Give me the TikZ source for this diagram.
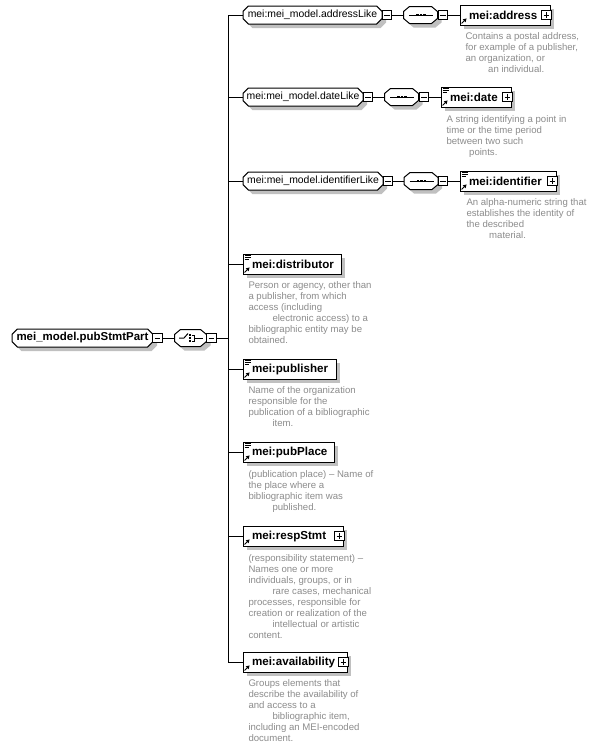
\documentclass[tikz,border=0pt]{standalone}
\usepackage{fontspec}
\setmainfont{Liberation Sans}
\usetikzlibrary{shapes.misc,shadows,arrows.meta}
\definecolor{shadowgray}{RGB}{192,192,192}
\definecolor{descgray}{RGB}{140,140,140}
\newcommand\xarrowicon{%
  \draw[line width=0.75pt,-{Triangle[length=2.6pt,width=2.8pt]}] ([shift={(1.2pt,1.2pt)}]path picture bounding box.south west) -- ++(5,-5);}
\newcommand\xlinesicon{%
  \draw[line width=0.6pt] ([shift={(1.2pt,-1.3pt)}]path picture bounding box.north west) -- ++(6,0) ++(-6,2) -- ++(6,0) ++(-6,2) -- ++(4,0);}
% compositor outline: #1 node name, #2 length of the flat top edge (px)
\newcommand\xcompshape[2]{%
  \fill[shadowgray] ([shift={(3pt,-3pt)}]#1.west) ++(0,-3.5) -- ++(6,-5) -- ++(#2,0) -- ++(6,5) -- ++(0,7) -- ++(-6,5) -- ++(-#2,0) -- ++(-6,-5) -- cycle;
  \draw[fill=white] (#1.west) ++(0,-3.5) -- ++(6,-5) -- ++(#2,0) -- ++(6,5) -- ++(0,7) -- ++(-6,5) -- ++(-#2,0) -- ++(-6,-5) -- cycle;}
\newcommand\xseqicon[1]{%
  \draw (#1.center) ++(-12,0) -- ++(24,0);
  \foreach \d in {-3.5,0,3.5} \fill (#1.center) ++(\d,0) ++(-1.3,-1.3) rectangle ++(2.6,2.6);}
\newcommand\xchoiceicon[1]{%
  \draw (#1.center) ++(-12,0) -- ++(5,0) -- ++(4,-4.5);
  \foreach \dy in {-3,0,3} \fill (#1.center) ++(-1,\dy) ++(-1.1,-1.1) rectangle ++(2.2,2.2);
  \draw (#1.center) ++(0.5,-3) -- ++(2.5,0) -- ++(0,6) -- ++(-2.5,0);
  \draw (#1.center) ++(3,0) -- ++(9,0);}
\begin{document}
\begin{tikzpicture}[x=0.75pt,y=-0.75pt,line width=0.75pt,
  shad/.style={drop shadow={shadow xshift=3pt,shadow yshift=-3pt,fill=shadowgray,opacity=1}},
  groupbox/.style={chamfered rectangle,chamfered rectangle xsep=2pt,chamfered rectangle ysep=2pt,
    draw,fill=white,shad,minimum height=13.5pt,inner sep=0pt,font=\fontsize{7.8}{9}\selectfont},
  rootbox/.style={groupbox,font=\bfseries\fontsize{8.6}{10}\selectfont},
  compbox/.style={rectangle,draw=none,minimum height=12.75pt,inner sep=0pt},
  seqbox/.style={compbox,minimum width=25.5pt},
  choicebox/.style={compbox,minimum width=24pt},
  elembase/.style={rectangle,draw,fill=white,shad,minimum height=15pt,inner sep=0pt,align=left,
    font=\bfseries\fontsize{8.7}{10}\selectfont},
  elem/.style={elembase,path picture={\xarrowicon}},
  elemc/.style={elembase,path picture={\xarrowicon\xlinesicon}},
  pm/.style={rectangle,draw,fill=white,minimum size=7pt,inner sep=0pt},
  minusbox/.style={pm,path picture={\draw ([xshift=1.3pt]path picture bounding box.west) -- ([xshift=-1.3pt]path picture bounding box.east);}},
  plusbox/.style={pm,path picture={\draw ([xshift=1.3pt]path picture bounding box.west) -- ([xshift=-1.3pt]path picture bounding box.east);
     \draw ([yshift=-1.3pt]path picture bounding box.north) -- ([yshift=1.3pt]path picture bounding box.south);}},
  desc/.style={anchor=north west,inner sep=0pt,align=left,text=descgray,font=\fontsize{7.2}{8.25}\selectfont},
  conn/.style={draw,line width=0.75pt}
]
\path[use as bounding box,fill=white] (0,0) rectangle (594,750);

% root and choice
\node[rootbox,minimum width=105.75pt] (root) at (82.5,338) {mei\_model.pubStmtPart};
\node[minusbox] (rootm) at (157.5,338) {};
\node[choicebox] (choice) at (191,338) {};
\xcompshape{choice}{20}
\xchoiceicon{choice}
\node[minusbox] (choicem) at (211.5,338) {};
\coordinate (spmid) at (228,338);

% spine coordinates
\coordinate (s1) at (228,15);
\coordinate (s2) at (228,97);
\coordinate (s3) at (228,181);
\coordinate (s4) at (228,264);
\coordinate (s5) at (228,369);
\coordinate (s6) at (228,452);
\coordinate (s7) at (228,536);
\coordinate (s8) at (228,662);

% row 1
\node[groupbox,minimum width=104.25pt] (g1) at (312.5,15) {mei:mei\_model.addressLike};
\node[minusbox] (g1m) at (387,15) {};
\node[seqbox] (q1) at (421,15) {};
\xcompshape{q1}{22}
\xseqicon{q1}
\node[minusbox] (q1m) at (443,15) {};
\node[elem,text width=67.5pt] (e1) at (505,15) {\hspace*{6.75pt}mei:address};
\node[plusbox] (e1p) at (546.5,15) {};
% row 2
\node[groupbox,minimum width=90pt] (g2) at (303,97) {mei:mei\_model.dateLike};
\node[minusbox] (g2m) at (368,97) {};
\node[seqbox] (q2) at (402,97) {};
\xcompshape{q2}{22}
\xseqicon{q2}
\node[minusbox] (q2m) at (424,97) {};
\node[elemc,text width=52.5pt] (e2) at (476,97) {\hspace*{6.75pt}mei:date};
\node[plusbox] (e2p) at (507.5,97) {};
% row 3
\node[groupbox,minimum width=105pt] (g3) at (313,181) {mei:mei\_model.identifierLike};
\node[minusbox] (g3m) at (388,181) {};
\node[seqbox] (q3) at (421.5,181) {};
\xcompshape{q3}{22}
\xseqicon{q3}
\node[minusbox] (q3m) at (443,181) {};
\node[elemc,text width=72pt] (e3) at (508,181) {\hspace*{6.75pt}mei:identifier};
\node[plusbox] (e3p) at (552.5,181) {};
% rows 4-8
\node[elemc,text width=73.5pt] (e4) at (292,264) {\hspace*{6.75pt}mei:distributor};
\node[elemc,text width=69.75pt] (e5) at (289.5,369) {\hspace*{6.75pt}mei:publisher};
\node[elemc,text width=68.25pt] (e6) at (288.5,452) {\hspace*{6.75pt}mei:pubPlace};
\node[elem,text width=75pt] (e7) at (293,536) {\hspace*{6.75pt}mei:respStmt};
\node[plusbox] (e7p) at (339.5,536) {};
\node[elem,text width=78pt] (e8) at (295,662) {\hspace*{6.75pt}mei:availability};
\node[plusbox] (e8p) at (343.5,662) {};

% connectors
\draw[conn] (rootm.east) -- (choice.west);
\draw[conn] (choicem.east) -- (spmid);
\draw[conn] (s1) -- (s8);
\draw[conn] (s1) -- (g1.west);
\draw[conn] (s2) -- (g2.west);
\draw[conn] (s3) -- (g3.west);
\draw[conn] (s4) -- (e4.west);
\draw[conn] (s5) -- (e5.west);
\draw[conn] (s6) -- (e6.west);
\draw[conn] (s7) -- (e7.west);
\draw[conn] (s8) -- (e8.west);
\draw[conn] (g1m.east) -- (q1.west);
\draw[conn] (q1m.east) -- (e1.west);
\draw[conn] (g2m.east) -- (q2.west);
\draw[conn] (q2m.east) -- (e2.west);
\draw[conn] (g3m.east) -- (q3.west);
\draw[conn] (q3m.east) -- (e3.west);

% descriptions
\node[desc] (d1) at (465,32.5) {Contains a postal address,\\for example of a publisher,\\an organization, or\\\hspace*{17pt}an individual.};
\node[desc] (d2) at (446,115.5) {A string identifying a point in\\time or the time period\\between two such\\\hspace*{17pt}points.};
\node[desc] (d3) at (466,198.5) {An alpha-numeric string that\\establishes the identity of\\the described\\\hspace*{17pt}material.};
\node[desc] (d4) at (248,281.5) {Person or agency, other than\\a publisher, from which\\access (including\\\hspace*{18pt}electronic access) to a\\bibliographic entity may be\\obtained.};
\node[desc] (d5) at (248,386.5) {Name of the organization\\responsible for the\\publication of a bibliographic\\\hspace*{18pt}item.};
\node[desc] (d6) at (248,470.5) {(publication place) – Name of\\the place where a\\bibliographic item was\\\hspace*{18pt}published.};
\node[desc] (d7) at (248,554.5) {(responsibility statement) –\\Names one or more\\individuals, groups, or in\\\hspace*{18pt}rare cases, mechanical\\processes, responsible for\\creation or realization of the\\\hspace*{18pt}intellectual or artistic\\content.};
\node[desc] (d8) at (248,679.5) {Groups elements that\\describe the availability of\\and access to a\\\hspace*{18pt}bibliographic item,\\including an MEI-encoded\\document.};
\end{tikzpicture}
\end{document}
